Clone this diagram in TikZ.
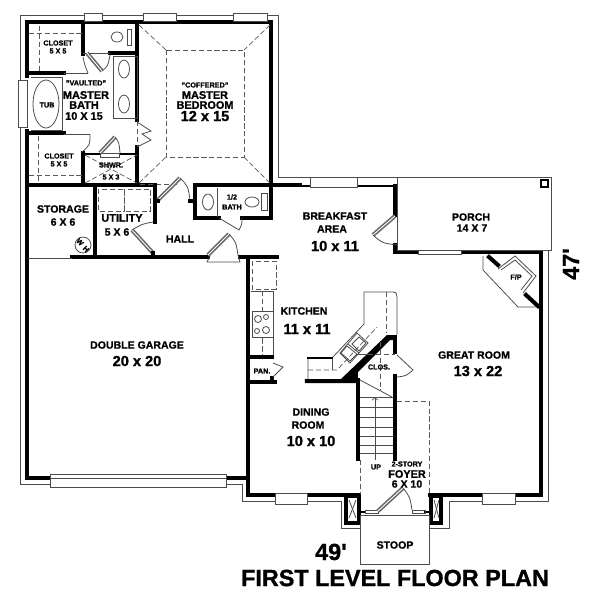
\documentclass[tikz,border=0pt]{standalone}
\usepackage{fontspec}
\setmainfont{Liberation Sans}[BoldFeatures={FakeBold=1.1}]
\usepackage{tikz}

\tikzset{
  wall/.style={line width=2.3pt,line cap=rect},
  slimwall/.style={line width=1.5pt,line cap=rect},
  thinline/.style={line width=0.45pt,black!70},
  dashline/.style={line width=0.4pt,black!65,dash pattern=on 3pt off 1.5pt},
  leaf/.style={line width=0.9pt,black!60,double=white,double distance=0.5pt},
  tiny/.style={font=\bfseries\fontsize{4.1}{4}\selectfont,inner sep=0pt},
  small/.style={font=\bfseries\fontsize{6}{6}\selectfont,inner sep=0pt},
  room/.style={font=\bfseries\fontsize{6.2}{6}\selectfont,inner sep=0pt},
  size/.style={font=\bfseries\fontsize{8.3}{9}\selectfont,inner sep=0pt},
  big/.style={font=\bfseries\fontsize{13.3}{14}\selectfont,inner sep=0pt},
}

\begin{document}
\begin{tikzpicture}[x=0.02cm,y=-0.02cm]

\useasboundingbox (0,0) rectangle (600,600);

% outer thin line
\draw[thinline] (84,15) -- (20,15) -- (20,484) -- (50,484);
\draw[thinline] (227,484) -- (242,484) -- (242,501) -- (275,501);
\draw[thinline] (307,501) -- (341,501) -- (341,528) -- (360,528);
\draw[thinline] (429,528) -- (449,528) -- (449,501) -- (482,501);
\draw[thinline] (515,501) -- (548,501) -- (548,250);
\draw[thinline] (102,15) -- (143,15);
\draw[thinline] (176,15) -- (233,15);
\draw[thinline] (267,15) -- (278,15) -- (278,177) -- (397,177);

% outer walls
\draw[wall] (27,22) -- (271,22) -- (271,186);
\draw[wall] (27,22) -- (27,76);
\draw[wall] (27,131) -- (27,478) -- (50,478);
\draw[wall] (226,478) -- (248,478);
\draw[wall] (248,257) -- (248,495) -- (358,495);
\draw[wall] (430,495) -- (541,495) -- (541,252) -- (395,252) -- (395,245);
\draw[wall] (395,186) -- (395,215);
\draw[slimwall] (271,186) -- (395,186);

% master suite
\draw[wall] (137,22) -- (137,120);
\draw[wall] (137,147) -- (137,185);
\draw[wall] (27,185) -- (155,185);
\draw[wall] (83,22) -- (83,54);
\draw[wall] (110,53) -- (137,53);
\draw[thinline] (83,53) -- (110,53);
\draw[wall] (27,73) -- (64,73);
\draw[wall] (27,133) -- (64,133);
\draw[thinline] (64,73) -- (88,73);
\draw[thinline] (64,134) -- (90,134);
\draw[wall] (83,153) -- (83,185);
\draw[slimwall] (84,154) -- (99,154);
\draw[slimwall] (120,154) -- (137,154);
\draw[thinline] (31,77) -- (62,77) -- (62,130) -- (31,130);
\draw[thinline] (113,56) rectangle (137,118);
\draw[thinline] (124,69) ellipse (5.5 and 9);
\draw[thinline] (124,104) ellipse (5.5 and 9);
\draw[thinline] (117,37) ellipse (6 and 5);
\draw[thinline] (127,29) rectangle (131,45);
\draw[thinline] (46,104) ellipse (13 and 24);
\draw[dashline] (39,26) -- (39,71);
\draw[dashline] (29,33) -- (82,33);
\draw[dashline] (38,136) -- (38,183);
\draw[dashline] (29,175) -- (82,175);
\draw[dashline] (85,155) -- (137,183);
\draw[dashline] (85,183) -- (137,155);
\draw[dashline] (166,50) rectangle (244,157);
\draw[dashline] (139,25) -- (166,50);
\draw[dashline] (270,25) -- (244,50);
\draw[dashline] (139,183) -- (166,157);
\draw[dashline] (270,183) -- (244,157);
\draw[dashline] (140,184) -- (178,184);
\draw[dashline] (137,121) -- (137,147);
\draw[thinline] (137,122) -- (151,131) -- (142,134) -- (151,140) -- (137,147);
\draw[thinline] (100,153) rectangle (119,157);

% doors of the suite
\draw[leaf] (87,53) -- (102,71);
\draw[thinline] (102,71) .. controls (108,66) .. (110,55);
\draw[thinline] (83,57) .. controls (85,66) .. (88,73);
\draw[thinline] (90,134) .. controls (90,145) .. (82,152);
\draw[leaf] (100,153) -- (115,137);
\draw[thinline] (115,137) .. controls (119,142) .. (120,153);

% half bath
\draw[wall] (195,185) -- (300,185);
\draw[wall] (195,185) -- (195,218) -- (219,218);
\draw[wall] (242,218) -- (271,218) -- (271,186);
\draw[thinline] (217,188) -- (217,217);
\draw[thinline] (208,202) ellipse (5.5 and 8);
\draw[thinline] (252,202) ellipse (7 and 5);
\draw[thinline] (261,193) rectangle (267,210);
\draw[thinline] (219,218) -- (239,230);
\draw[thinline] (239,230) .. controls (242,224) .. (242,218);

% utility, storage, hall
\draw[wall] (95,185) -- (95,257);
\draw[wall] (155,185) -- (155,222);
\draw[wall] (72,257) -- (208,257);
\draw[wall] (240,257) -- (277,257);
\draw[thinline] (28,258) -- (72,258);
\draw[dashline] (98,189) rectangle (124,211);
\draw[dashline] (124,189) rectangle (150,211);
\draw[thinline] (83,245) circle (8);
\draw[leaf] (158,200) -- (180,178);
\draw[thinline] (180,178) .. controls (188,186) .. (190,200);
\draw[wall] (155,201) -- (158,201);
\draw[wall] (190,201) -- (195,201);
\draw[leaf] (132,230) -- (153,253);
\draw[thinline] (132,230) .. controls (142,224) .. (153,222);
\draw[wall] (153,253) -- (153,256);
\draw[leaf] (208,255) -- (229,234);
\draw[thinline] (229,234) .. controls (236,242) .. (238,255);
\draw[thinline] (207,262) -- (240,262) -- (238,255);
\draw[thinline] (207,262) -- (210,256);

% garage door
\draw[thinline,fill=white] (50,474) rectangle (226,487);
\draw[thinline] (50,478) -- (226,478);

% kitchen
\draw[dashline] (252,261) rectangle (276,289);
\draw[thinline] (251,291) -- (273,291) -- (273,357);
\draw[dashline] (262,291) -- (262,356);
\draw[thinline,fill=white] (252,311) rectangle (273,337);
\draw[thinline] (258,319) circle (3.5);
\draw[thinline] (266,317) circle (2.5);
\draw[thinline] (257,331) circle (2.5);
\draw[thinline] (266,330) circle (3.5);
\draw[wall] (249,357) -- (272,357);
\draw[wall] (249,382) -- (275,382);
\draw[wall] (272,378) -- (272,381);
\draw[thinline] (273,363) -- (283,367) -- (273,377);

% island and sink
\draw[thinline] (308,380) -- (308,358) -- (332,358) -- (364,324) -- (364,292) -- (393,292)
  .. controls (396,292) .. (397,297) -- (397,335);
\draw[dashline] (386,292) -- (386,333);
\draw[dashline] (308,370) -- (337,370) -- (377,327);
\draw[thinline] (332,358) -- (332,370);
\draw[slimwall] (308,358) -- (332,358);
\draw[thinline] (357,333) -- (368,343) -- (350,363) -- (340,353) -- cycle;
\draw[thinline] (348,344) -- (359,353);
\draw[thinline] (359,337) -- (366,343) -- (359,351) -- (352,344) -- cycle;
\draw[thinline] (347,346) -- (357,354) -- (350,361) -- (341,353) -- cycle;

% closet and stair walls
\fill (305,379) -- (341,379) -- (387,335) -- (397,335) -- (397,340) -- (390,340)
  -- (358,372) -- (358,383) -- (305,383) -- cycle;
\draw[wall] (395,337) -- (395,352);
\draw[wall] (395,376) -- (395,459);
\draw[wall] (358,380) -- (358,459);
\draw[thinline] (368,354) -- (358,354);
\draw[dashline] (368,354) -- (395,354);
\draw[dashline] (380,342) -- (380,390);
\draw[thinline] (397,355) -- (413,370) .. controls (406,376) .. (397,377);
\draw[thinline] (360,380) -- (392,397);
\foreach \tread in {397,407,417,427,436,445,453}
  \draw[thinline] (360,\tread) -- (393,\tread);
\draw[thinline,->] (375,460) -- (375,397);

% foyer and entry
\draw[dashline] (397,401) -- (429,401) -- (429,494);
\draw[dashline] (360,460) -- (360,508);
\draw[wall] (346,496) rectangle (359,523);
\draw[wall] (431,496) rectangle (441,523);
\draw[thinline] (349,500) -- (356,518);
\draw[thinline] (356,500) -- (349,518);
\draw[thinline] (434,500) -- (439,518);
\draw[thinline] (439,500) -- (434,518);
\draw[slimwall] (361,512) -- (365,512);
\draw[slimwall] (425,512) -- (429,512);
\draw[thinline] (365,510) rectangle (378,513);
\draw[thinline] (412,510) rectangle (425,513);
\draw[leaf] (378,511) -- (403,488);
\draw[thinline] (403,488) .. controls (410,497) .. (412,510);
\draw[thinline] (360,515) rectangle (429,564);

% porch and breakfast door
\draw[thinline,fill=white] (397,177) rectangle (551,250);
\draw[line width=0.9pt] (541,180) rectangle (548,187);
\draw[leaf] (395,216) -- (373,235);
\draw[thinline] (373,235) .. controls (382,243) .. (397,245);

% fireplace
\draw[thinline] (483,256) -- (483,270) -- (518,307) -- (538,307);
\draw[wall] (489,257) -- (498,265);
\draw[wall] (526,295) -- (538,306);
\draw[thinline] (498,269) -- (515,256) -- (536,276) -- (523,293);
\draw[thinline] (501,270) -- (515,260) -- (532,276) -- (521,290);

% windows
\foreach \xa/\xb in {84/102,143/176,233/267}
  \draw[thinline,fill=white] (\xa,13) rectangle (\xb,21);
\draw[thinline,fill=white] (18,80) rectangle (27,127);
\draw[thinline,fill=white] (310,177) rectangle (357,187);
\draw[thinline,fill=white] (418,250) rectangle (461,254);
\draw[thinline,fill=white] (275,493) rectangle (307,504);
\draw[thinline,fill=white] (482,493) rectangle (515,504);

% labels
\node[tiny] (closeta) at (58,43) {CLOSET};
\node[tiny] (closetaz) at (58,51) {5 X 5};
\node[tiny] (closetb) at (59,156) {CLOSET};
\node[tiny] (closetbz) at (59,164) {5 X 5};
\node[tiny] (vaulted) at (86,83) {"VAULTED"};
\node[room] (mbath) at (86,95) {MASTER};
\node[room] (mbathb) at (84,105) {BATH};
\node[room] (mbathz) at (84,116) {10 X 15};
\node[tiny] (tub) at (47,105) {TUB};
\node[tiny] (shwr) at (111,165) {SHWR.};
\node[tiny] (shwrz) at (111,177) {5 X 3};
\node[tiny] (coffered) at (205,85) {"COFFERED"};
\node[room] (mbed) at (205,95) {MASTER};
\node[room] (mbedb) at (205,105) {BEDROOM};
\node[size] (mbedz) at (205,116) {12 x 15};
\node[small] (storage) at (63,209) {STORAGE};
\node[small] (storagez) at (63,222) {6 X 6};
\node[room] (utility) at (122,218) {UTILITY};
\node[small] (utilityz) at (117,232) {5 X 6};
\node[small] (hall) at (180,239) {HALL};
\node[tiny] (hbath) at (232,197) {1/2};
\node[tiny] (hbathb) at (232,207) {BATH};
\node[tiny,rotate=-45] (wa) at (80,242) {W};
\node[tiny,rotate=-45] (ha) at (86,249) {H};
\node[small] (breakfast) at (335,216) {BREAKFAST};
\node[small] (area) at (332,229) {AREA};
\node[size] (breakfastz) at (335,246) {10 x 11};
\node[small] (porch) at (471,217) {PORCH};
\node[small] (porchz) at (472,228) {14 X 7};
\node[tiny] (fp) at (516,277) {F/P};
\node[small] (kitchen) at (304,311) {KITCHEN};
\node[size] (kitchenz) at (307,329) {11 x 11};
\node[tiny] (pan) at (262,371) {PAN.};
\node[tiny] (clos) at (379,367) {CLOS.};
\node[small] (great) at (474,355) {GREAT ROOM};
\node[size] (greatz) at (478,371) {13 x 22};
\node[small] (dining) at (311,412) {DINING};
\node[small] (diningb) at (308,425) {ROOM};
\node[size] (diningz) at (311,441) {10 x 10};
\node[tiny] (up) at (376,467) {UP};
\node[tiny] (story) at (407,464) {2-STORY};
\node[room] (foyer) at (407,474) {FOYER};
\node[small] (foyerz) at (407,484) {6 X 10};
\node[small] (stoop) at (395,545) {STOOP};
\node[small] (garage) at (137,345) {DOUBLE GARAGE};
\node[size] (garagez) at (137,361) {20 x 20};
\node[big] (width) at (331,552) {49\textquotesingle};
\node[big,rotate=90] (depth) at (571,264) {47\textquotesingle};
\node[big] (title) at (395,578) {FIRST LEVEL FLOOR PLAN};

\end{tikzpicture}
\end{document}
